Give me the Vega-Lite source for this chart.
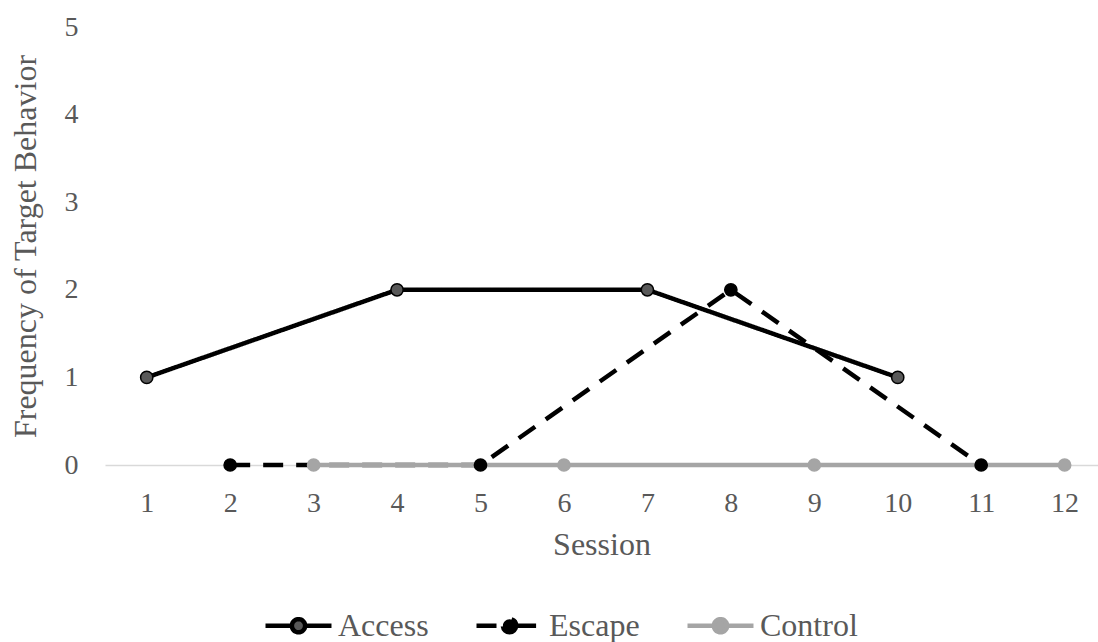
{
  "$schema": "https://vega.github.io/schema/vega-lite/v6.json",
  "width": 993,
  "height": 438,
  "autosize": {"type": "none"},
  "padding": {"left": 105, "top": 27, "right": 0, "bottom": 177},
  "background": "white",
  "config": {
    "view": {"stroke": null},
    "font": "Liberation Serif",
    "axis": {"labelFont": "Liberation Serif", "titleFont": "Liberation Serif", "labelColor": "#595959", "titleColor": "#595959", "labelFontSize": 28, "titleFontSize": 32, "titleFontWeight": "normal", "grid": false, "ticks": false},
    "legend": {"labelFont": "Liberation Serif", "labelColor": "#595959", "labelFontSize": 32}
  },
  "data": {
    "values": [
      {"session": 1, "value": 1, "series": "Access"},
      {"session": 4, "value": 2, "series": "Access"},
      {"session": 7, "value": 2, "series": "Access"},
      {"session": 10, "value": 1, "series": "Access"},
      {"session": 2, "value": 0, "series": "Escape"},
      {"session": 5, "value": 0, "series": "Escape"},
      {"session": 8, "value": 2, "series": "Escape"},
      {"session": 11, "value": 0, "series": "Escape"},
      {"session": 3, "value": 0, "series": "Control"},
      {"session": 6, "value": 0, "series": "Control"},
      {"session": 9, "value": 0, "series": "Control"},
      {"session": 12, "value": 0, "series": "Control"}
    ]
  },
  "encoding": {
    "x": {
      "field": "session", "type": "quantitative",
      "scale": {"domain": [0.5, 12.4], "nice": false, "zero": false},
      "axis": {"values": [1,2,3,4,5,6,7,8,9,10,11,12], "title": "Session", "domain": true, "domainColor": "#D9D9D9", "domainWidth": 1.5, "labelPadding": 24, "titlePadding": 12, "labelFlush": false}
    },
    "y": {
      "field": "value", "type": "quantitative",
      "scale": {"domain": [0, 5], "nice": false},
      "axis": {"values": [0,1,2,3,4,5], "title": "Frequency of Target Behavior", "domain": false, "labelPadding": 27, "titlePadding": 22}
    }
  },
  "layer": [
    {
      "transform": [{"filter": "datum.series != 'Control'"}],
      "mark": {"type": "line", "strokeWidth": 4.5},
      "encoding": {
        "stroke": {
          "field": "series", "type": "nominal",
          "scale": {"domain": ["Access", "Escape", "Control"], "range": ["#000000", "#000000", "#A5A5A5"]},
          "legend": {
            "title": null, "orient": "none", "direction": "horizontal", "legendX": 158, "legendY": 563,
            "symbolType": "M-1,0H-0.2M0.2,0H1M0.2,0A0.2,0.2,0,1,1,-0.2,0A0.2,0.2,0,1,1,0.2,0Z",
            "symbolSize": 4356, "symbolStrokeWidth": 4.5, "columnPadding": 38, "labelOffset": 4
          }
        },
        "strokeDash": {
          "field": "series", "type": "nominal",
          "scale": {"domain": ["Access", "Escape", "Control"], "range": [[1, 0], [20, 13], [1, 0]]}
        }
      }
    },
    {
      "transform": [{"filter": "datum.series == 'Control'"}],
      "mark": {"type": "line", "strokeWidth": 4.5},
      "encoding": {
        "stroke": {"field": "series", "type": "nominal"},
        "strokeDash": {"field": "series", "type": "nominal"}
      }
    },
    {
      "mark": {"type": "point", "filled": true, "size": 150, "strokeWidth": 1.5, "opacity": 1},
      "encoding": {
        "fill": {"field": "series", "type": "nominal", "scale": {"domain": ["Access", "Escape", "Control"], "range": ["#595959", "#000000", "#A5A5A5"]}},
        "stroke": {"field": "series", "type": "nominal"}
      }
    }
  ]
}
